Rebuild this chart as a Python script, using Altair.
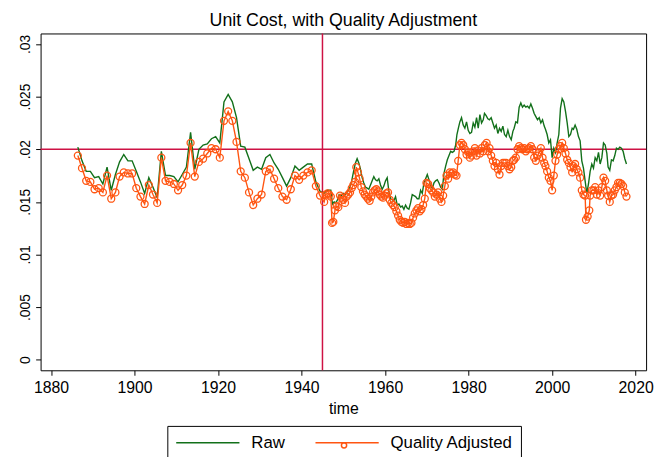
import altair as alt
import pandas as pd

# ---------------- data ----------------
years_pre = list(range(1886, 1945))  # annual observations (mid-year)
raw_pre = [0.0202, 0.0189, 0.0179, 0.0179, 0.0173, 0.0174, 0.0167, 0.0183, 0.0161, 0.0176,
           0.0188, 0.0195, 0.0189, 0.0189, 0.0179, 0.0169, 0.0158, 0.0173, 0.0164, 0.0154,
           0.0198, 0.0175, 0.0175, 0.0174, 0.0169, 0.0176, 0.0183, 0.0216, 0.0181, 0.0200,
           0.0204, 0.0205, 0.0210, 0.0212, 0.0206, 0.0245, 0.0252, 0.0245, 0.0230, 0.0203,
           0.0202, 0.0191, 0.0180, 0.0183, 0.0181, 0.0192, 0.0195, 0.0187, 0.0181, 0.0173,
           0.0165, 0.0173, 0.0184, 0.0180, 0.0183, 0.0186, 0.0186, 0.0169, 0.0160]
adj_pre = [0.0194, 0.0182, 0.0170, 0.0169, 0.0162, 0.0163, 0.0159, 0.0175, 0.0153, 0.0159,
           0.0174, 0.0178, 0.0177, 0.0177, 0.0163, 0.0155, 0.0148, 0.0166, 0.0157, 0.0149,
           0.0192, 0.0170, 0.0169, 0.0167, 0.0161, 0.0166, 0.0175, 0.0206, 0.0174, 0.0188,
           0.0191, 0.0196, 0.0201, 0.0200, 0.0192, 0.0227, 0.0236, 0.0227, 0.0207, 0.0179,
           0.0173, 0.0159, 0.0147, 0.0153, 0.0157, 0.0179, 0.0181, 0.0172, 0.0163, 0.0155,
           0.0152, 0.0162, 0.0175, 0.0171, 0.0175, 0.0178, 0.0180, 0.0165, 0.0156]

# post-war observations: (time, value)
raw_post = [
    (1945.4, 0.0158), (1945.8, 0.0160), (1946.2, 0.0161), (1946.6, 0.0161), (1947.0, 0.0161),
    (1947.4, 0.0148), (1947.8, 0.0150), (1948.2, 0.0149), (1948.6, 0.0152), (1949.0, 0.0157),
    (1949.5, 0.0156), (1950.0, 0.0158), (1950.5, 0.0157), (1951.0, 0.0160), (1951.5, 0.0163),
    (1952.0, 0.0170), (1952.5, 0.0180), (1952.9, 0.0187), (1953.3, 0.0191), (1953.7, 0.0187),
    (1954.1, 0.0181), (1954.5, 0.0173), (1954.9, 0.0168), (1955.3, 0.0164), (1955.7, 0.0163),
    (1956.1, 0.0162), (1956.5, 0.0166), (1956.9, 0.0170), (1957.3, 0.0174), (1957.7, 0.0171),
    (1958.1, 0.0170), (1958.5, 0.0172), (1958.9, 0.0166), (1959.3, 0.0162), (1959.7, 0.0165),
    (1960.1, 0.0170), (1960.5, 0.0173), (1960.9, 0.0160), (1961.3, 0.0153), (1961.7, 0.0152),
    (1962.1, 0.0151), (1962.5, 0.0155), (1962.9, 0.0147), (1963.3, 0.0148), (1963.7, 0.0145),
    (1964.1, 0.0146), (1964.5, 0.0143), (1964.9, 0.0147), (1965.3, 0.0144), (1965.7, 0.0143),
    (1966.1, 0.0149), (1966.5, 0.0157), (1966.9, 0.0156), (1967.3, 0.0155), (1967.7, 0.0153),
    (1968.1, 0.0153), (1968.5, 0.0161), (1968.9, 0.0158), (1969.3, 0.0168), (1969.7, 0.0172),
    (1970.1, 0.0176), (1970.5, 0.0171), (1970.9, 0.0165), (1971.3, 0.0163), (1971.7, 0.0168),
    (1972.1, 0.0170), (1972.5, 0.0171), (1972.9, 0.0168), (1973.3, 0.0164), (1973.7, 0.0162),
    (1974.1, 0.0177), (1974.5, 0.0184), (1974.9, 0.0190), (1975.3, 0.0194), (1975.7, 0.0198),
    (1976.1, 0.0197), (1976.5, 0.0198), (1976.9, 0.0204), (1977.2, 0.0214), (1977.6, 0.0221),
    (1977.9, 0.0226), (1978.3, 0.0230), (1978.7, 0.0223), (1979.1, 0.0220), (1979.5, 0.0226),
    (1979.9, 0.0218), (1980.3, 0.0215), (1980.7, 0.0216), (1981.1, 0.0225), (1981.5, 0.0221),
    (1981.9, 0.0230), (1982.3, 0.0220), (1982.7, 0.0233), (1983.1, 0.0225), (1983.5, 0.0228),
    (1983.8, 0.0234), (1984.2, 0.0232), (1984.6, 0.0229), (1985.0, 0.0228), (1985.4, 0.0230),
    (1985.8, 0.0225), (1986.2, 0.0220), (1986.6, 0.0223), (1987.0, 0.0215), (1987.4, 0.0220),
    (1987.8, 0.0217), (1988.2, 0.0222), (1988.6, 0.0214), (1989.0, 0.0212), (1989.4, 0.0218),
    (1989.8, 0.0212), (1990.2, 0.0209), (1990.6, 0.0217), (1990.9, 0.0220), (1991.3, 0.0226),
    (1991.7, 0.0225), (1992.1, 0.0240), (1992.5, 0.0244), (1992.9, 0.0240), (1993.3, 0.0242),
    (1993.7, 0.0240), (1994.1, 0.0241), (1994.5, 0.0239), (1994.9, 0.0243), (1995.3, 0.0239),
    (1995.7, 0.0234), (1996.1, 0.0231), (1996.5, 0.0228), (1996.9, 0.0230), (1997.3, 0.0225),
    (1997.7, 0.0228), (1998.1, 0.0222), (1998.4, 0.0219), (1998.8, 0.0214), (1999.2, 0.0206),
    (1999.6, 0.0209), (2000.0, 0.0192), (2000.4, 0.0201), (2000.8, 0.0197), (2001.2, 0.0206),
    (2001.6, 0.0214), (2002.0, 0.0239), (2002.4, 0.0248), (2002.8, 0.0245), (2003.2, 0.0236),
    (2003.6, 0.0225), (2004.0, 0.0212), (2004.4, 0.0214), (2004.8, 0.0220), (2005.1, 0.0219),
    (2005.5, 0.0223), (2005.9, 0.0219), (2006.3, 0.0212), (2006.7, 0.0208), (2007.1, 0.0189),
    (2007.5, 0.0182), (2007.9, 0.0170), (2008.3, 0.0158), (2008.7, 0.0167), (2009.1, 0.0179),
    (2009.5, 0.0186), (2009.9, 0.0182), (2010.3, 0.0192), (2010.7, 0.0189), (2011.1, 0.0197),
    (2011.5, 0.0186), (2011.9, 0.0192), (2012.3, 0.0206), (2012.7, 0.0204), (2013.1, 0.0196),
    (2013.4, 0.0183), (2013.8, 0.0180), (2014.2, 0.0190), (2014.6, 0.0189), (2015.0, 0.0194),
    (2015.4, 0.0201), (2015.8, 0.0200), (2016.2, 0.0202), (2016.6, 0.0201), (2017.0, 0.0198),
    (2017.4, 0.0191), (2017.8, 0.0186),
]
adj_post = [
    (1945.4, 0.0150), (1945.8, 0.0157), (1946.2, 0.0158), (1946.6, 0.0157), (1947.0, 0.0155),
    (1947.3, 0.0130), (1947.6, 0.0131), (1948.0, 0.0142), (1948.4, 0.0146), (1948.8, 0.0145),
    (1949.2, 0.0156), (1949.6, 0.0154), (1950.0, 0.0152), (1950.4, 0.0149), (1950.8, 0.0155),
    (1951.2, 0.0157), (1951.6, 0.0159), (1952.0, 0.0163), (1952.4, 0.0166), (1952.8, 0.0169),
    (1953.1, 0.0183), (1953.5, 0.0178), (1953.9, 0.0172), (1954.3, 0.0164), (1954.7, 0.0160),
    (1955.1, 0.0157), (1955.5, 0.0155), (1955.9, 0.0153), (1956.3, 0.0151), (1956.7, 0.0155),
    (1957.1, 0.0159), (1957.5, 0.0161), (1957.9, 0.0162), (1958.3, 0.0160), (1958.7, 0.0157),
    (1959.1, 0.0155), (1959.5, 0.0154), (1959.9, 0.0156), (1960.3, 0.0158), (1960.7, 0.0159),
    (1961.1, 0.0152), (1961.5, 0.0149), (1961.9, 0.0147), (1962.3, 0.0145), (1962.7, 0.0141),
    (1963.1, 0.0137), (1963.5, 0.0133), (1963.9, 0.0131), (1964.3, 0.0130), (1964.7, 0.0131),
    (1965.1, 0.0129), (1965.5, 0.0130), (1965.9, 0.0129), (1966.3, 0.0130), (1966.7, 0.0135),
    (1967.1, 0.0139), (1967.5, 0.0142), (1967.9, 0.0144), (1968.3, 0.0141), (1968.7, 0.0143),
    (1969.1, 0.0147), (1969.5, 0.0153), (1969.9, 0.0168), (1970.3, 0.0167), (1970.7, 0.0163),
    (1971.1, 0.0161), (1971.5, 0.0159), (1971.9, 0.0155), (1972.3, 0.0157), (1972.7, 0.0159),
    (1973.1, 0.0153), (1973.5, 0.0150), (1973.9, 0.0156), (1974.3, 0.0165), (1974.7, 0.0175),
    (1975.1, 0.0172), (1975.5, 0.0178), (1975.9, 0.0177), (1976.3, 0.0178), (1976.7, 0.0176),
    (1977.1, 0.0175), (1977.5, 0.0189), (1977.9, 0.0204), (1978.3, 0.0206), (1978.7, 0.0204),
    (1979.1, 0.0200), (1979.5, 0.0195), (1979.9, 0.0197), (1980.3, 0.0192), (1980.7, 0.0194),
    (1981.1, 0.0198), (1981.5, 0.0201), (1981.9, 0.0194), (1982.3, 0.0199), (1982.7, 0.0196),
    (1983.1, 0.0201), (1983.5, 0.0198), (1983.9, 0.0204), (1984.3, 0.0206), (1984.7, 0.0198),
    (1985.0, 0.0201), (1985.4, 0.0194), (1985.8, 0.0189), (1986.2, 0.0184), (1986.6, 0.0187),
    (1987.0, 0.0181), (1987.4, 0.0176), (1987.8, 0.0184), (1988.2, 0.0187), (1988.6, 0.0187),
    (1989.0, 0.0187), (1989.4, 0.0184), (1989.8, 0.0181), (1990.2, 0.0183), (1990.6, 0.0189),
    (1990.9, 0.0190), (1991.3, 0.0192), (1991.7, 0.0200), (1992.1, 0.0203), (1992.5, 0.0201),
    (1992.9, 0.0200), (1993.3, 0.0201), (1993.7, 0.0198), (1994.1, 0.0200), (1994.5, 0.0201),
    (1994.9, 0.0203), (1995.3, 0.0200), (1995.7, 0.0192), (1996.1, 0.0189), (1996.5, 0.0194),
    (1996.9, 0.0197), (1997.3, 0.0201), (1997.7, 0.0192), (1998.1, 0.0187), (1998.4, 0.0184),
    (1998.8, 0.0179), (1999.2, 0.0173), (1999.6, 0.0170), (2000.0, 0.0161), (2000.4, 0.0175),
    (2000.8, 0.0189), (2001.2, 0.0195), (2001.6, 0.0200), (2002.0, 0.0203), (2002.4, 0.0206),
    (2002.8, 0.0201), (2003.2, 0.0196), (2003.6, 0.0190), (2004.0, 0.0187), (2004.4, 0.0183),
    (2004.8, 0.0178), (2005.1, 0.0184), (2005.5, 0.0186), (2005.9, 0.0181), (2006.3, 0.0178),
    (2006.7, 0.0173), (2007.1, 0.0161), (2007.5, 0.0157), (2007.9, 0.0156), (2008.1, 0.0133),
    (2008.5, 0.0136), (2008.9, 0.0142), (2009.1, 0.0156), (2009.5, 0.0161), (2009.9, 0.0161),
    (2010.3, 0.0164), (2010.7, 0.0157), (2011.1, 0.0161), (2011.5, 0.0156), (2011.9, 0.0164),
    (2012.3, 0.0173), (2012.7, 0.0170), (2013.1, 0.0161), (2013.4, 0.0156), (2013.8, 0.0150),
    (2014.2, 0.0156), (2014.6, 0.0157), (2015.0, 0.0161), (2015.4, 0.0164), (2015.8, 0.0168),
    (2016.2, 0.0168), (2016.6, 0.0167), (2017.0, 0.0165), (2017.4, 0.0159), (2017.8, 0.0155),
]

series_names = ["Raw", "Quality Adjusted"]
vline_years = [1945]
hline_values = [0.02]
x_ticks = [1880, 1900, 1920, 1940, 1960, 1980, 2000, 2020]
y_ticks = [0, 0.005, 0.01, 0.015, 0.02, 0.025, 0.03]

# ---------------- table ----------------
rows = []
for yr, r, a in zip(years_pre, raw_pre, adj_pre):
    t = yr + 5 / 12
    rows.append({"series": "Raw", "time": t, "value": r})
    rows.append({"series": "Quality Adjusted", "time": t, "value": a})
for t, v in raw_post:
    rows.append({"series": "Raw", "time": t, "value": v})
for t, v in adj_post:
    rows.append({"series": "Quality Adjusted", "time": t, "value": v})
df = pd.DataFrame(rows)
df_adj = df[df["series"] == "Quality Adjusted"]

GREEN = "#12701a"
ORANGE = "#ff5511"
RED = "#ce1244"
FONT = "Liberation Sans"

xscale = alt.Scale(domain=[1877.5, 2022.5], nice=False, zero=False)
yscale = alt.Scale(domain=[-0.001, 0.031], nice=False, zero=False)

x_axis = alt.Axis(title="time", values=x_ticks, format="d", grid=False, domain=False,
                  ticks=True, tickSize=5, tickColor="black", labelFontSize=16,
                  labelFont=FONT, labelColor="black", labelPadding=4,
                  titleFont=FONT, titleFontSize=16, titleFontWeight="normal",
                  titleColor="black", titlePadding=6)
y_axis = alt.Axis(title=None, values=y_ticks, grid=False, domain=False, ticks=True,
                  tickSize=5, tickColor="black", labelFontSize=14, labelFont=FONT,
                  labelColor="black", labelAngle=270, labelAlign="center",
                  labelBaseline="alphabetic", labelPadding=6,
                  labelExpr="datum.value == 0 ? '0' : replace(format(datum.value, '.3~f'), '0.', '.')")

hline = alt.Chart(pd.DataFrame({"v": hline_values})).mark_rule(
    color=RED, strokeWidth=1.5).encode(y=alt.Y("v:Q", scale=yscale, axis=y_axis))
vline = alt.Chart(pd.DataFrame({"t": vline_years})).mark_rule(
    color=RED, strokeWidth=1.5).encode(x=alt.X("t:Q", scale=xscale, axis=x_axis))

# legend line symbol: a horizontal stroke, 64 px long, starting at the entry's left edge
LINE_SYMBOL = "M-1,0L7,0"

lines = alt.Chart(df).mark_line(strokeWidth=1.4).encode(
    x=alt.X("time:Q", scale=xscale, axis=x_axis),
    y=alt.Y("value:Q", scale=yscale, axis=y_axis),
    color=alt.Color("series:N", scale=alt.Scale(domain=series_names, range=[GREEN, ORANGE]),
                    legend=alt.Legend(title=None, orient="none", legendX=128.3, legendY=397.3,
                                      direction="horizontal", columns=2,
                                      symbolType=LINE_SYMBOL, symbolSize=256,
                                      symbolStrokeWidth=1.6, symbolFillColor="transparent",
                                      labelFont=FONT, labelFontSize=17, labelColor="black",
                                      labelOffset=59, columnPadding=26, padding=8,
                                      strokeColor="black", fillColor="white", labelLimit=400,
                                      zindex=1)),
    detail="series:N",
    order="time:Q",
)

points = alt.Chart(df_adj).mark_point(filled=False, size=50, strokeWidth=1.3, color=ORANGE,
                                      opacity=1).encode(
    x=alt.X("time:Q", scale=xscale, axis=x_axis),
    y=alt.Y("value:Q", scale=yscale, axis=y_axis),
    shape=alt.Shape("series:N", scale=alt.Scale(domain=["Quality Adjusted"], range=["circle"]),
                    legend=alt.Legend(title=None, orient="none", legendX=303.7, legendY=413.5,
                                      symbolType="circle", symbolSize=28,
                                      symbolStrokeColor=ORANGE, symbolFillColor="transparent",
                                      symbolStrokeWidth=1.5, labelExpr="''", labelFontSize=1,
                                      labelOffset=0, padding=0, zindex=2)),
)

chart = alt.layer(hline, vline, lines, points).properties(
    width=613, height=341,
    title=alt.TitleParams("Unit Cost, with Quality Adjustment", font=FONT, fontSize=18,
                          fontWeight="normal", color="black", anchor="middle",
                          frame="group", baseline="alphabetic", offset=10, dy=21.5),
    autosize=alt.AutoSizeParams(type="none"),
    padding={"left": 33, "top": 23, "right": 8, "bottom": 85},
    background="white",
).configure_view(stroke="black", strokeWidth=1)

chart.save("out.html", embed_options={"renderer": "svg", "actions": False})
